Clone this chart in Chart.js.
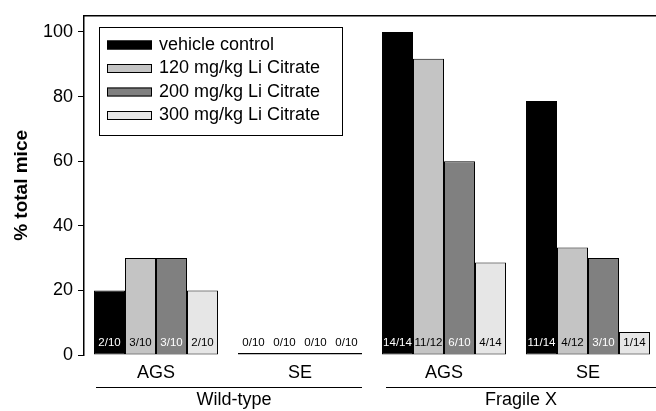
<!DOCTYPE html>
<html>
<head>
<meta charset="utf-8">
<script src="https://cdn.jsdelivr.net/npm/chart.js@4"></script>
<style>
  html, body { margin: 0; padding: 0; background: #fff; overflow: hidden; }
  #wrap { width: 660px; height: 411px; }
</style>
</head>
<body>
<div id="wrap"><canvas id="myChart" width="660" height="411"></canvas></div>
<script>
const categories = ["AGS", "SE", "AGS", "SE"];
const genotypes = ["Wild-type", "Fragile X"];
const seriesNames = ["vehicle control", "120 mg/kg Li Citrate", "200 mg/kg Li Citrate", "300 mg/kg Li Citrate"];
const vehicle = [20, 0, 100, 78.6];
const li120 = [30, 0, 91.7, 33.3];
const li200 = [30, 0, 60, 30];
const li300 = [20, 0, 28.6, 7.1];
const vehicleN = ["2/10", "0/10", "14/14", "11/14"];
const li120N = ["3/10", "0/10", "11/12", "4/12"];
const li200N = ["3/10", "0/10", "6/10", "3/10"];
const li300N = ["2/10", "0/10", "4/14", "1/14"];
const yTicks = [0, 20, 40, 60, 80, 100];

const colors = ["#000000", "#c4c4c4", "#808080", "#e6e6e6"];
const countLabels = [vehicleN, li120N, li200N, li300N];
const FONT = "'Liberation Sans', Arial, sans-serif";

const barLabels = {
  id: "barLabels",
  afterDatasetsDraw(chart) {
    const ctx = chart.ctx;
    const bottom = chart.chartArea.bottom;
    ctx.save();
    ctx.font = "11.5px " + FONT;
    ctx.textAlign = "center";
    ctx.textBaseline = "middle";
    chart.data.datasets.forEach((ds, i) => {
      chart.getDatasetMeta(i).data.forEach((bar, j) => {
        const dark = (i === 0 || i === 2) && ds.data[j] > 5;
        ctx.fillStyle = dark ? "#ffffff" : "#000000";
        ctx.fillText(countLabels[i][j], bar.x, bottom - 12);
      });
    });
    ctx.restore();
  }
};

const frame = {
  id: "frame",
  afterDraw(chart) {
    const ctx = chart.ctx;
    const a = chart.chartArea;
    const x = chart.scales.x;
    ctx.save();
    ctx.strokeStyle = "#000";
    ctx.lineWidth = 1.5;
    ctx.beginPath();
    ctx.moveTo(a.left, a.top);
    ctx.lineTo(a.right, a.top);
    ctx.lineTo(a.right, a.bottom);
    ctx.stroke();

    // genotype group lines and labels
    ctx.lineWidth = 1;
    ctx.font = "18px " + FONT;
    ctx.fillStyle = "#000";
    ctx.textAlign = "center";
    ctx.textBaseline = "middle";
    const spans = [[x.getPixelForValue(0) - 60, x.getPixelForValue(1) + 62],
                   [x.getPixelForValue(2) - 58, x.getPixelForValue(3) + 68]];
    spans.forEach((s, k) => {
      ctx.beginPath();
      ctx.moveTo(s[0], 387.5);
      ctx.lineTo(s[1], 387.5);
      ctx.stroke();
      ctx.fillText(genotypes[k], (s[0] + s[1]) / 2 + (k === 0 ? 5 : 0), 400);
    });

    // legend box
    ctx.lineWidth = 1;
    ctx.strokeRect(99.5, 27.5, 243, 108);
    ctx.textAlign = "left";
    chart.data.datasets.forEach((ds, i) => {
      const cy = 45 + i * 23.5;
      ctx.fillStyle = ds.backgroundColor;
      ctx.fillRect(107, cy - 4.5, 45, 9);
      ctx.strokeRect(107.5, cy - 4, 44, 8);
      ctx.fillStyle = "#000";
      ctx.fillText(ds.label, 159, cy);
    });
    ctx.restore();
  }
};

const ctx = document.getElementById("myChart");

new Chart(ctx, {
  type: "bar",
  data: {
    labels: categories,
    datasets: [vehicle, li120, li200, li300].map((d, i) => ({
      label: seriesNames[i],
      data: d,
      backgroundColor: colors[i],
      borderColor: "#000",
      borderWidth: 1,
      borderSkipped: false,
      minBarLength: 2,
      categoryPercentage: 0.861,
      barPercentage: 1,
    })),
  },
  options: {
    responsive: false,
    animation: false,
    devicePixelRatio: 1,
    layout: { padding: { top: 12, right: 0, left: 0, bottom: 0 } },
    plugins: {
      legend: { display: false },
      tooltip: { enabled: false },
    },
    scales: {
      x: {
        grid: { display: false, drawTicks: false },
        border: { display: false },
        ticks: {
          color: "#000",
          font: { family: FONT, size: 18 },
          padding: 7,
        },
        afterFit(scale) { scale.height = 56; },
      },
      y: {
        min: 0,
        max: 105,
        grid: { drawOnChartArea: false, tickLength: 6, color: "#000" },
        border: { color: "#000", width: 1.5 },
        afterBuildTicks(scale) { scale.ticks = yTicks.map(v => ({ value: v })); },
        ticks: {
          color: "#000",
          font: { family: FONT, size: 18 },
          padding: 5,
        },
        title: {
          display: true,
          text: "% total mice",
          color: "#000",
          font: { family: FONT, size: 19, weight: "bold" },
          padding: { top: 10, bottom: 0 },
        },
        afterFit(scale) { scale.width = 84; },
      },
    },
  },
  plugins: [barLabels, frame],
});
</script>
</body>
</html>
